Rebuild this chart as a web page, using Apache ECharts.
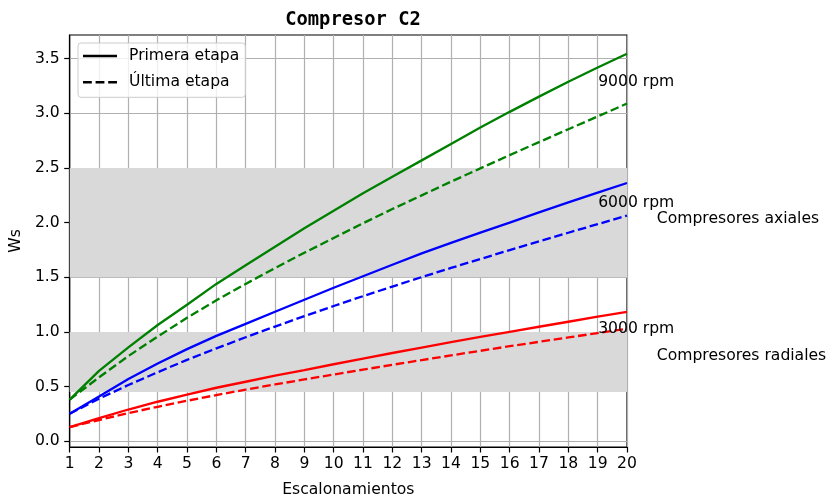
<!DOCTYPE html>
<html>
<head>
<meta charset="utf-8">
<script src="https://cdn.jsdelivr.net/npm/echarts@6/dist/echarts.min.js"></script>
<style>html,body{margin:0;padding:0;background:#fff}#c{width:827px;height:503px}</style>
</head>
<body>
<div id="c"></div>
<script>
// ---- data ----
const steps = [1,2,3,4,5,6,7,8,9,10,11,12,13,14,15,16,17,18,19,20];
const rpm9000First = [0.382,0.645,0.86,1.064,1.25,1.44,1.61,1.78,1.95,2.11,2.27,2.42,2.57,2.72,2.87,3.014,3.153,3.29,3.42,3.545];
const rpm9000Last  = [0.382,0.585,0.78,0.958,1.13,1.29,1.44,1.585,1.725,1.86,1.995,2.125,2.25,2.375,2.497,2.618,2.737,2.855,2.972,3.09];
const rpm6000First = [0.252,0.41,0.57,0.712,0.843,0.965,1.075,1.185,1.295,1.405,1.51,1.615,1.72,1.815,1.91,2.0,2.095,2.185,2.275,2.363];
const rpm6000Last  = [0.252,0.39,0.515,0.632,0.745,0.85,0.952,1.05,1.145,1.238,1.328,1.416,1.502,1.586,1.668,1.749,1.829,1.908,1.987,2.065];
const rpm3000First = [0.13,0.212,0.291,0.362,0.427,0.49,0.545,0.6,0.652,0.705,0.757,0.808,0.858,0.907,0.955,1.002,1.048,1.094,1.14,1.185];
const rpm3000Last  = [0.13,0.195,0.258,0.316,0.371,0.423,0.473,0.52,0.566,0.611,0.656,0.7,0.743,0.786,0.828,0.87,0.91,0.95,0.99,1.03];
const yTicks = [0,0.5,1.0,1.5,2.0,2.5,3.0,3.5];
const bandAxial = [1.5, 2.5];
const bandRadial = [0.45, 1.0];
const rpmLabels = ['9000 rpm','6000 rpm','3000 rpm'];
const rpmLabelPos = [[19,3.29],[19,2.18],[19,1.03]];
const bandLabels = ['Compresores axiales','Compresores radiales'];
const bandLabelPos = [[21,2.03],[21,0.785]];
const legendNames = ['Primera etapa','Última etapa'];

const pair = arr => steps.map((x,i)=>[x,arr[i]]);
const DASH = [8.6,3.7];
const LW = 2.33;
const FONT = 'DejaVu Sans';
const FS = 15.6;

function line(name, data, color, dashed){
  return {type:'line', name:name, data:pair(data), symbol:'none', showSymbol:false,
    lineStyle:{color:color, width:LW, type: dashed?DASH:'solid'}, itemStyle:{color:color},
    z:3, silent:true, animation:false};
}

const solidIcon = 'path://M0,0h34v2.33h-34z';
const dashIcon = 'path://M0,0h8.6v2.33h-8.6zM12.3,0h8.6v2.33h-8.6zM24.6,0h8.6v2.33h-8.6z';

const chart = echarts.init(document.getElementById('c'), null, {renderer:'canvas'});
const option = {
  animation:false,
  title:{text:'Compresor C2', left:348, top:6, textAlign:'center',
    textStyle:{fontFamily:'DejaVu Sans Mono', fontWeight:'bold', fontSize:18.8, color:'#000'}},
  grid:{left:69, right:200, top:35, bottom:52, show:true, borderColor:'#000', borderWidth:1.2, containLabel:false},
  legend:{
    data: [{name:legendNames[0], icon:solidIcon},{name:legendNames[1], icon:dashIcon}],
    orient:'vertical', left:78, top:43,
    padding:[5,6,7,5], itemGap:10.3, itemWidth:34, itemHeight:16,
    backgroundColor:'rgba(255,255,255,0.8)', borderColor:'#cccccc', borderWidth:1, borderRadius:3,
    textStyle:{fontFamily:FONT, fontSize:FS, color:'#000', padding:[0,0,0,7]},
    selectedMode:false
  },
  xAxis:{type:'value', min:1, max:20, interval:1,
    name:'Escalonamientos', nameLocation:'middle', nameGap:35,
    nameTextStyle:{fontFamily:FONT, fontSize:FS, color:'#000'},
    axisLine:{show:true, onZero:false, lineStyle:{color:'#000', width:1.2}},
    axisTick:{show:true, length:5.5, lineStyle:{color:'#000', width:1.2}},
    axisLabel:{fontFamily:FONT, fontSize:FS, color:'#000', margin:9},
    splitLine:{show:true, lineStyle:{color:'#b0b0b0', width:1.2}}
  },
  yAxis:{type:'value', min:-0.052, max:3.717,
    name:'Ws', nameLocation:'middle', nameGap:33,
    nameTextStyle:{fontFamily:FONT, fontSize:FS, color:'#000'},
    axisLine:{show:true, onZero:false, lineStyle:{color:'#000', width:1.2}},
    axisTick:{show:true, length:5.5, customValues:yTicks, lineStyle:{color:'#000', width:1.2}},
    axisLabel:{fontFamily:FONT, fontSize:FS, color:'#000', margin:10, customValues:yTicks,
      formatter:v=>Number(v).toFixed(1)},
    splitLine:{show:true, lineStyle:{color:'#b0b0b0', width:1.2}}
  },
  series:[
    {type:'line', name:'bands', data:[], z:-1, silent:true,
      markArea:{silent:true, itemStyle:{color:'#d9d9d9'},
        data:[[{yAxis:bandAxial[0]},{yAxis:bandAxial[1]}],[{yAxis:bandRadial[0]},{yAxis:bandRadial[1]}]]}},
    {type:'line', name:legendNames[0], data:[], symbol:'none', lineStyle:{color:'#000', width:LW, type:'solid'}, itemStyle:{color:'#000'}},
    {type:'line', name:legendNames[1], data:[], symbol:'none', lineStyle:{color:'#000', width:LW, type:DASH}, itemStyle:{color:'#000'}},
    line('g1', rpm9000First, '#008000', false),
    line('g2', rpm9000Last, '#008000', true),
    line('b1', rpm6000First, '#0000ff', false),
    line('b2', rpm6000Last, '#0000ff', true),
    line('r1', rpm3000First, '#ff0000', false),
    line('r2', rpm3000Last, '#ff0000', true),
    {type:'scatter', name:'rpmText', clip:false, silent:true, z:5,
      symbolSize:1, itemStyle:{color:'rgba(0,0,0,0)'},
      data: rpmLabels.map((t,i)=>({value:rpmLabelPos[i], name:t})),
      label:{show:true, position:'right', distance:0, formatter:p=>p.name,
        fontFamily:FONT, fontSize:FS, color:'#000', opacity:1}},
    {type:'scatter', name:'bandText', clip:false, silent:true, z:5,
      symbolSize:1, itemStyle:{color:'rgba(0,0,0,0)'},
      data: bandLabels.map((t,i)=>({value:bandLabelPos[i], name:t})),
      label:{show:true, position:'right', distance:0, formatter:p=>p.name,
        fontFamily:FONT, fontSize:FS, color:'#000', opacity:1}}
  ]
};
chart.setOption(option);
</script>
</body>
</html>
